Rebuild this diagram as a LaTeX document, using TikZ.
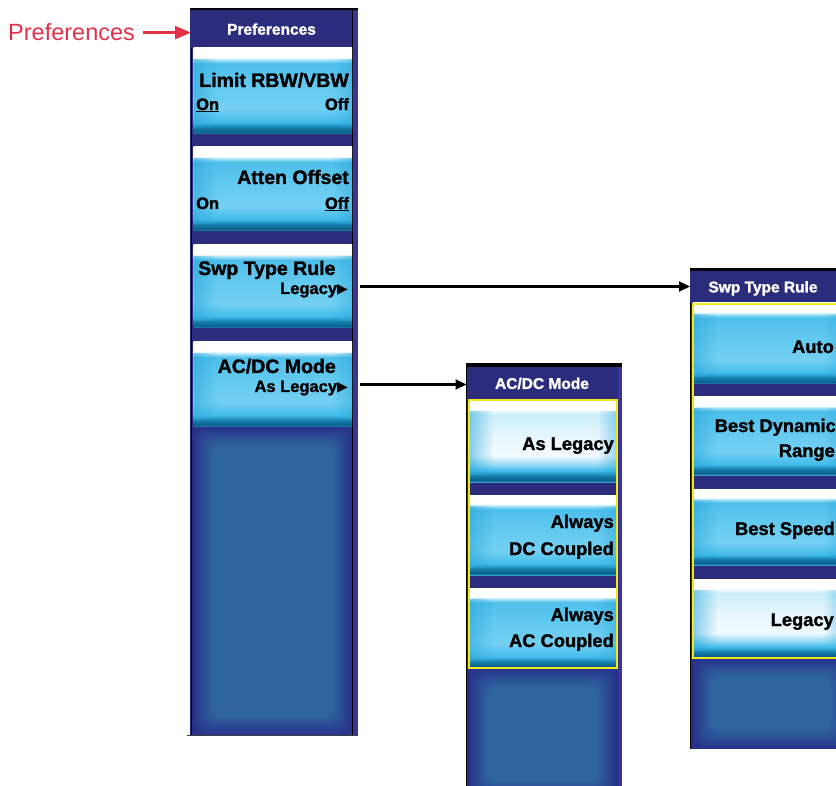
\documentclass[tikz,border=0pt]{standalone}
\usepackage{fontspec}
\setmainfont{Liberation Sans}[BoldFeatures={FakeBold=1.5}]
\newfontfamily\symf{DejaVu Sans}
\usetikzlibrary{arrows.meta,calc,fadings}

\definecolor{navy}{HTML}{2B2D7C}
\definecolor{navyR}{HTML}{3A3596}
\definecolor{dkOuter}{HTML}{27348A}
\definecolor{dkInner}{HTML}{2F659F}
\definecolor{redlbl}{HTML}{E5304A}
\definecolor{ylw}{HTML}{F0E81C}
\definecolor{bLine}{HTML}{2FA0CF}
\definecolor{bTeal}{HTML}{0B5F87}
\definecolor{bMid}{HTML}{167FAE}
\definecolor{bC1}{HTML}{43BCEA}
\definecolor{bC2}{HTML}{74D0F2}
\definecolor{bC3}{HTML}{60C8EF}
\definecolor{bC4}{HTML}{4DBFEB}
\definecolor{bC5}{HTML}{A5E2F8}
\definecolor{edgeC}{HTML}{2AA6D9}
\definecolor{sC1}{HTML}{9ADCF4}
\definecolor{sC2}{HTML}{F2FAFE}
\definecolor{sC3}{HTML}{E4F5FC}
\definecolor{sC4}{HTML}{CBEEFB}

\pgfdeclareverticalshading{btnnorm}{100bp}{color(0bp)=(bLine); color(25bp)=(bLine); color(26bp)=(bTeal); color(29bp)=(bMid); color(32bp)=(bC1); color(40bp)=(bC2); color(55bp)=(bC3); color(66bp)=(bC4); color(68bp)=(bC5); color(69.5bp)=(white); color(75bp)=(white); color(100bp)=(white)}
\pgfdeclareverticalshading{btnsel}{100bp}{color(0bp)=(bLine); color(25bp)=(bLine); color(26bp)=(bTeal); color(29bp)=(bMid); color(32bp)=(bC1); color(36bp)=(sC1); color(41bp)=(sC2); color(55bp)=(sC3); color(66bp)=(sC4); color(69.5bp)=(white); color(75bp)=(white); color(100bp)=(white)}

\newcommand{\glowbox}[4]{%
  \fill[dkOuter] (#1,#2) rectangle (#3,#4);
  \foreach \i in {1,...,11}{%
    \pgfmathtruncatemacro\pc{\i*100/11}%
    \fill[dkInner!\pc!dkOuter, rounded corners=10pt] ($(#1,#2)+(\i*1.7,\i*1.7)$) rectangle ($(#3,#4)+(-\i*1.7,-\i*1.7)$);
  }}
\newcommand{\edgeshade}[1]{%
  \fill[edgeC, fill opacity=.55, path fading=east] ([yshift=-11pt]#1.north west) rectangle ([xshift=24pt,yshift=7pt]#1.south west);
  \fill[edgeC, fill opacity=.45, path fading=west] ([xshift=-20pt,yshift=-11pt]#1.north east) rectangle ([yshift=7pt]#1.south east);}

\tikzset{
  btnbox/.style={shade, inner sep=0pt, outer sep=0pt, draw=none},
  hdrbox/.style={fill=navy, inner sep=0pt, outer sep=0pt, text=white,
    font=\bfseries\fontsize{15.5}{17}\selectfont, text height=10.8pt, text depth=0pt},
  lbl/.style={font=\bfseries\fontsize{19.5}{21}\selectfont, inner sep=0pt, anchor=base east},
  sublbl/.style={font=\bfseries\fontsize{16.5}{18}\selectfont, inner sep=0pt, anchor=base east},
  optlbl/.style={font=\bfseries\fontsize{18.3}{20}\selectfont, inner sep=0pt, anchor=base east},
  conn/.style={-{Triangle[length=11pt,width=10pt]}, line width=2.2pt, black},
  redarr/.style={-{Triangle[length=16pt,width=13pt]}, line width=2.5pt, redlbl},
}
\newcommand{\tri}{{\symf\fontsize{14}{14}\selectfont ▶}}

\begin{document}
\begin{tikzpicture}[x=1pt,y=-1pt]
\useasboundingbox (0,0) rectangle (836,786);
\clip (0,0) rectangle (836,786);

% ---------- left panel ----------
\fill[navy] (190,8) rectangle (358,735);
\fill[navyR] (353,8) rectangle (358,735);
\glowbox{193.5}{427}{352}{735}
\draw[black, line width=1.5pt] (191.5,8) -- (191.5,735);
\draw[black, line width=1pt] (352.5,8) -- (352.5,735);
\fill[black] (190,8) rectangle (358,10.5);
\draw[black!75, line width=1pt] (187,735) -- (358,735);
\node[hdrbox, minimum width=161pt, minimum height=37.5pt] (lhdr) at (271.5,29.25) {Preferences};

\node[btnbox, shading=btnnorm, minimum width=158.5pt, minimum height=86pt] (lb1) at (272.75,91) {};
\node[btnbox, shading=btnnorm, minimum width=158.5pt, minimum height=84pt] (lb2) at (272.75,189) {};
\node[btnbox, shading=btnnorm, minimum width=158.5pt, minimum height=83pt] (lb3) at (272.75,286.5) {};
\node[btnbox, shading=btnnorm, minimum width=158.5pt, minimum height=85pt] (lb4) at (272.75,384.5) {};
\edgeshade{lb1}\edgeshade{lb2}\edgeshade{lb3}\edgeshade{lb4}

\node[lbl] (t1) at (349,87) {Limit RBW/VBW};
\node[sublbl, anchor=base west] (t1a) at (196,110) {\underline{On}};
\node[sublbl] (t1b) at (349,110) {Off};
\node[lbl] (t2) at (349,184) {Atten Offset};
\node[sublbl, anchor=base west] (t2a) at (196,209) {On};
\node[sublbl] (t2b) at (349,209) {\underline{Off}};
\node[lbl, anchor=base west] (t3) at (198,275) {Swp Type Rule};
\node[sublbl] (t3a) at (348,294) {Legacy\tri};
\node[lbl] (t4) at (336,373) {AC/DC Mode};
\node[sublbl] (t4a) at (348,392) {As Legacy\tri};

% ---------- middle panel ----------
\fill[navy] (466,363) rectangle (622,790);
\fill[navyR] (617.5,363) rectangle (622,790);
\glowbox{469}{668}{617}{800}
\draw[black, line width=1.5pt] (466.5,363) -- (466.5,790);
\fill[black] (466,363) rectangle (622,367);
\node[hdrbox, minimum width=151pt, minimum height=33pt] (mhdr) at (542,383.5) {AC/DC Mode};

\node[btnbox, shading=btnsel, minimum width=148pt, minimum height=82pt] (mb1) at (543,441) {};
\node[btnbox, shading=btnnorm, minimum width=148pt, minimum height=80pt] (mb2) at (543,535) {};
\node[btnbox, shading=btnnorm, minimum width=148pt, minimum height=80pt] (mb3) at (543,628) {};
\edgeshade{mb1}\edgeshade{mb2}\edgeshade{mb3}
\draw[ylw, line width=2pt] (469,400) rectangle (617,668);

\node[optlbl] (m1) at (614,450) {As Legacy};
\node[optlbl] (m2) at (614,528) {Always};
\node[optlbl] (m2b) at (614,555) {DC Coupled};
\node[optlbl] (m3) at (614,621) {Always};
\node[optlbl] (m3b) at (614,647) {AC Coupled};

% ---------- right panel ----------
\fill[navy] (690,268) rectangle (850,749);
\glowbox{693}{658}{850}{749}
\draw[black, line width=1.5pt] (690.5,268) -- (690.5,749);
\fill[black] (690,268) rectangle (850,271);
\node[hdrbox, minimum width=146pt, minimum height=32pt] (rhdr) at (763,287) {Swp Type Rule};

\node[btnbox, shading=btnnorm, minimum width=150pt, minimum height=81pt] (rb1) at (768,343.5) {};
\node[btnbox, shading=btnnorm, minimum width=150pt, minimum height=78pt] (rb2) at (768,436) {};
\node[btnbox, shading=btnnorm, minimum width=150pt, minimum height=76pt] (rb3) at (768,527) {};
\node[btnbox, shading=btnsel, minimum width=150pt, minimum height=79pt] (rb4) at (768,618.5) {};
\edgeshade{rb1}\edgeshade{rb2}\edgeshade{rb3}\edgeshade{rb4}
\draw[ylw, line width=2pt] (693,304) rectangle (850,658);

\node[optlbl] (r1) at (834,353) {Auto};
\node[optlbl] (r2) at (836,432) {Best Dynamic};
\node[optlbl] (r2b) at (835,457) {Range};
\node[optlbl] (r3) at (835,535) {Best Speed};
\node[optlbl] (r4) at (834,626) {Legacy};

% ---------- label and connectors ----------
\node[font=\fontsize{23.5}{26}\selectfont, text=redlbl, inner sep=0pt, anchor=base west] (redl) at (8,41) {Preferences};
\draw[redarr] ([xshift=8pt]redl.east) -- (redl.east -| lhdr.west);
\draw[conn, shorten <=8pt] (lb3.east) -- (lb3.east -| rhdr.west);
\draw[conn, shorten <=8pt] (lb4.east) -- (lb4.east -| mhdr.west);
\end{tikzpicture}
\end{document}
